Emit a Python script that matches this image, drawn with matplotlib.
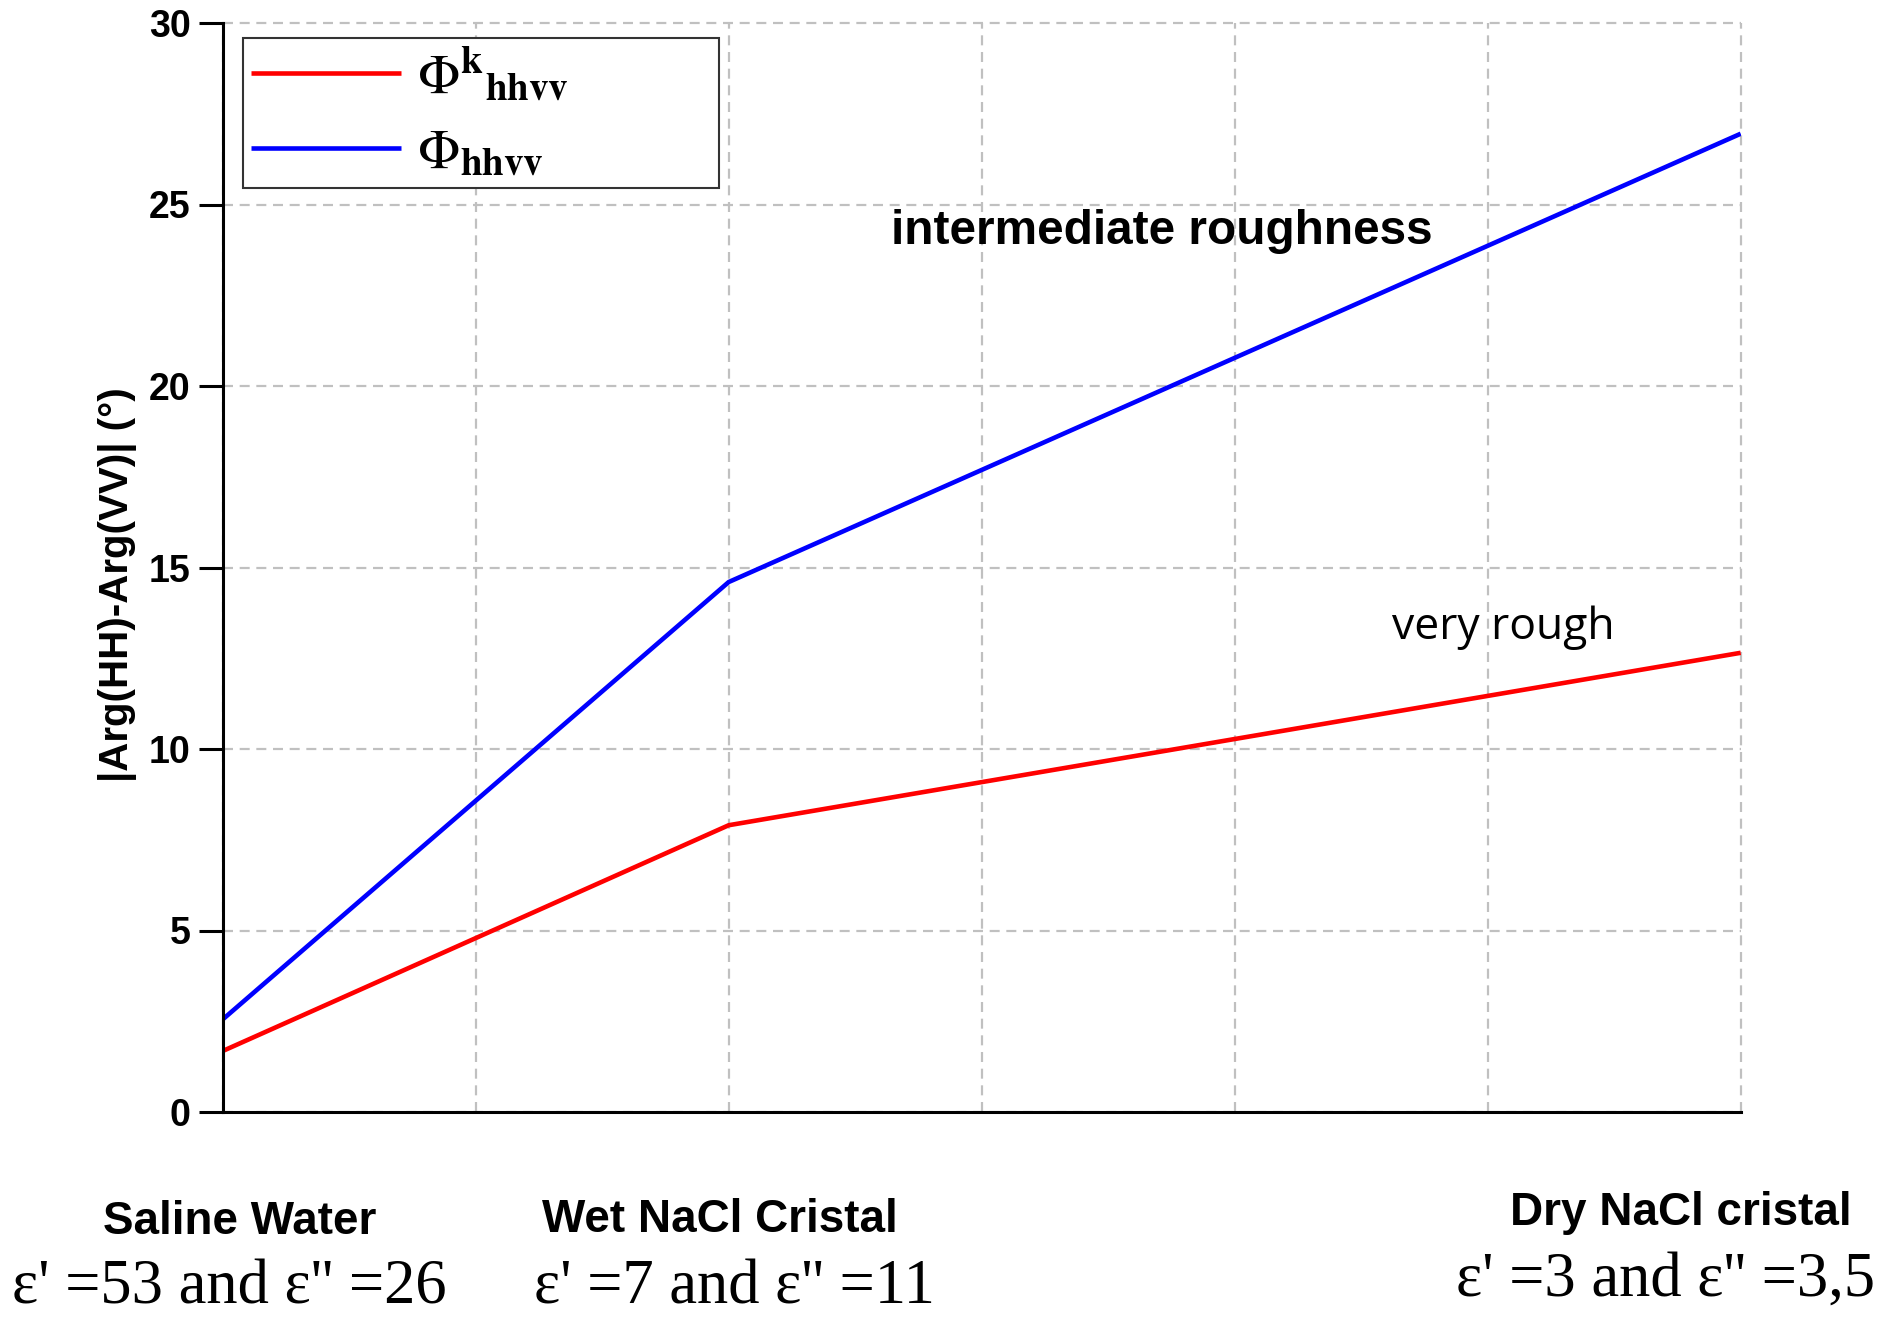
import matplotlib
matplotlib.use('Agg')
import matplotlib.pyplot as plt

# ---- data ----
x_positions = [0, 2, 6]
phi_k_hhvv = [1.68, 7.9, 12.65]      # red, "very rough"
phi_hhvv = [2.55, 14.6, 26.95]       # blue, "intermediate roughness"
y_ticks = [0, 5, 10, 15, 20, 25, 30]
x_grid = [0, 1, 2, 3, 4, 5, 6]
legend_labels = [r'$\Phi^{\mathbf{k}}{}_{\mathbf{hhvv}}$', r'$\Phi_{\mathbf{hhvv}}$']
material_names = ['Saline Water', 'Wet NaCl Cristal', 'Dry NaCl cristal']
permittivity_labels = ["ε' =53 and ε'' =26", "ε' =7 and ε'' =11", "ε' =3 and ε'' =3,5"]
annotation_texts = ['intermediate roughness', 'very rough']
y_label = '|Arg(HH)-Arg(VV)| (°)'

plt.rcParams['mathtext.fontset'] = 'stix'
plt.rcParams['font.family'] = ['Liberation Sans', 'DejaVu Sans']

W, H = 1902, 1318
fig = plt.figure(figsize=(W / 100, H / 100), dpi=100)
ax_l, ax_r, ax_t, ax_b = 222.7, 1740.7, 23, 1112
ax = fig.add_axes([ax_l / W, 1 - ax_b / H, (ax_r - ax_l) / W, (ax_b - ax_t) / H])

ax.plot(x_positions, phi_k_hhvv, color='#ff0000', lw=3.3, solid_capstyle='butt')
ax.plot(x_positions, phi_hhvv, color='#0000ff', lw=3.3, solid_capstyle='butt')

ax.set_xlim(0, 6)
ax.set_ylim(0, 30)
ax.set_xticks(x_grid)
ax.set_xticklabels([])
ax.set_xticks([0], minor=True)
ax.tick_params(axis='x', which='major', length=0)
ax.tick_params(axis='x', which='minor', length=17, width=2.2, direction='out')
ax.set_yticks(y_ticks)
ax.set_yticklabels([str(v) for v in y_ticks], fontsize=27, fontweight='bold')
ax.tick_params(axis='y', which='major', length=17, width=2.2, direction='out', pad=6)

for s in ['top', 'right']:
    ax.spines[s].set_visible(False)
for s in ['left', 'bottom']:
    ax.spines[s].set_linewidth(2.2)
    ax.spines[s].set_color('black')

ax.set_axisbelow(True)
ax.grid(True, which='major', color='#c0c0c0', linestyle=(0, (4.5, 3)), linewidth=1.6)
for gl in ax.get_xgridlines() + ax.get_ygridlines():
    gl.set_clip_on(False)

ax.set_ylabel(y_label, fontsize=29, fontweight='bold')
ax.yaxis.set_label_coords(-0.0565, 0.484)

leg = ax.legend(legend_labels, loc='upper left',
                bbox_to_anchor=(0.0134, 0.8466, 0.3136, 0.1396), mode='expand',
                borderaxespad=0, fontsize=40, handlelength=2.7, handletextpad=0.29,
                borderpad=0.15, labelspacing=0.42, fancybox=False, framealpha=1,
                edgecolor='#333333')
leg.get_frame().set_linewidth(1.5)

ax.text(2.64, 23.9, annotation_texts[0], fontsize=34.4, fontweight='bold', ha='left', va='baseline')
ax.text(4.62, 13.03, annotation_texts[1], fontsize=32, family=['Open Sans', 'DejaVu Sans'],
        ha='left', va='baseline')

name_pos = [(103, 1234), (542, 1232), (1510, 1225)]
perm_pos = [(12, 1304), (534, 1304), (1456, 1296)]
for name, (px, py) in zip(material_names, name_pos):
    fig.text(px / W, 1 - py / H, name, fontsize=33, fontweight='bold', ha='left', va='baseline')
for lab, (px, py) in zip(permittivity_labels, perm_pos):
    fig.text(px / W, 1 - py / H, lab, fontsize=45, family=['Liberation Serif', 'DejaVu Serif'],
             ha='left', va='baseline')

fig.savefig('out.png', dpi=100)
